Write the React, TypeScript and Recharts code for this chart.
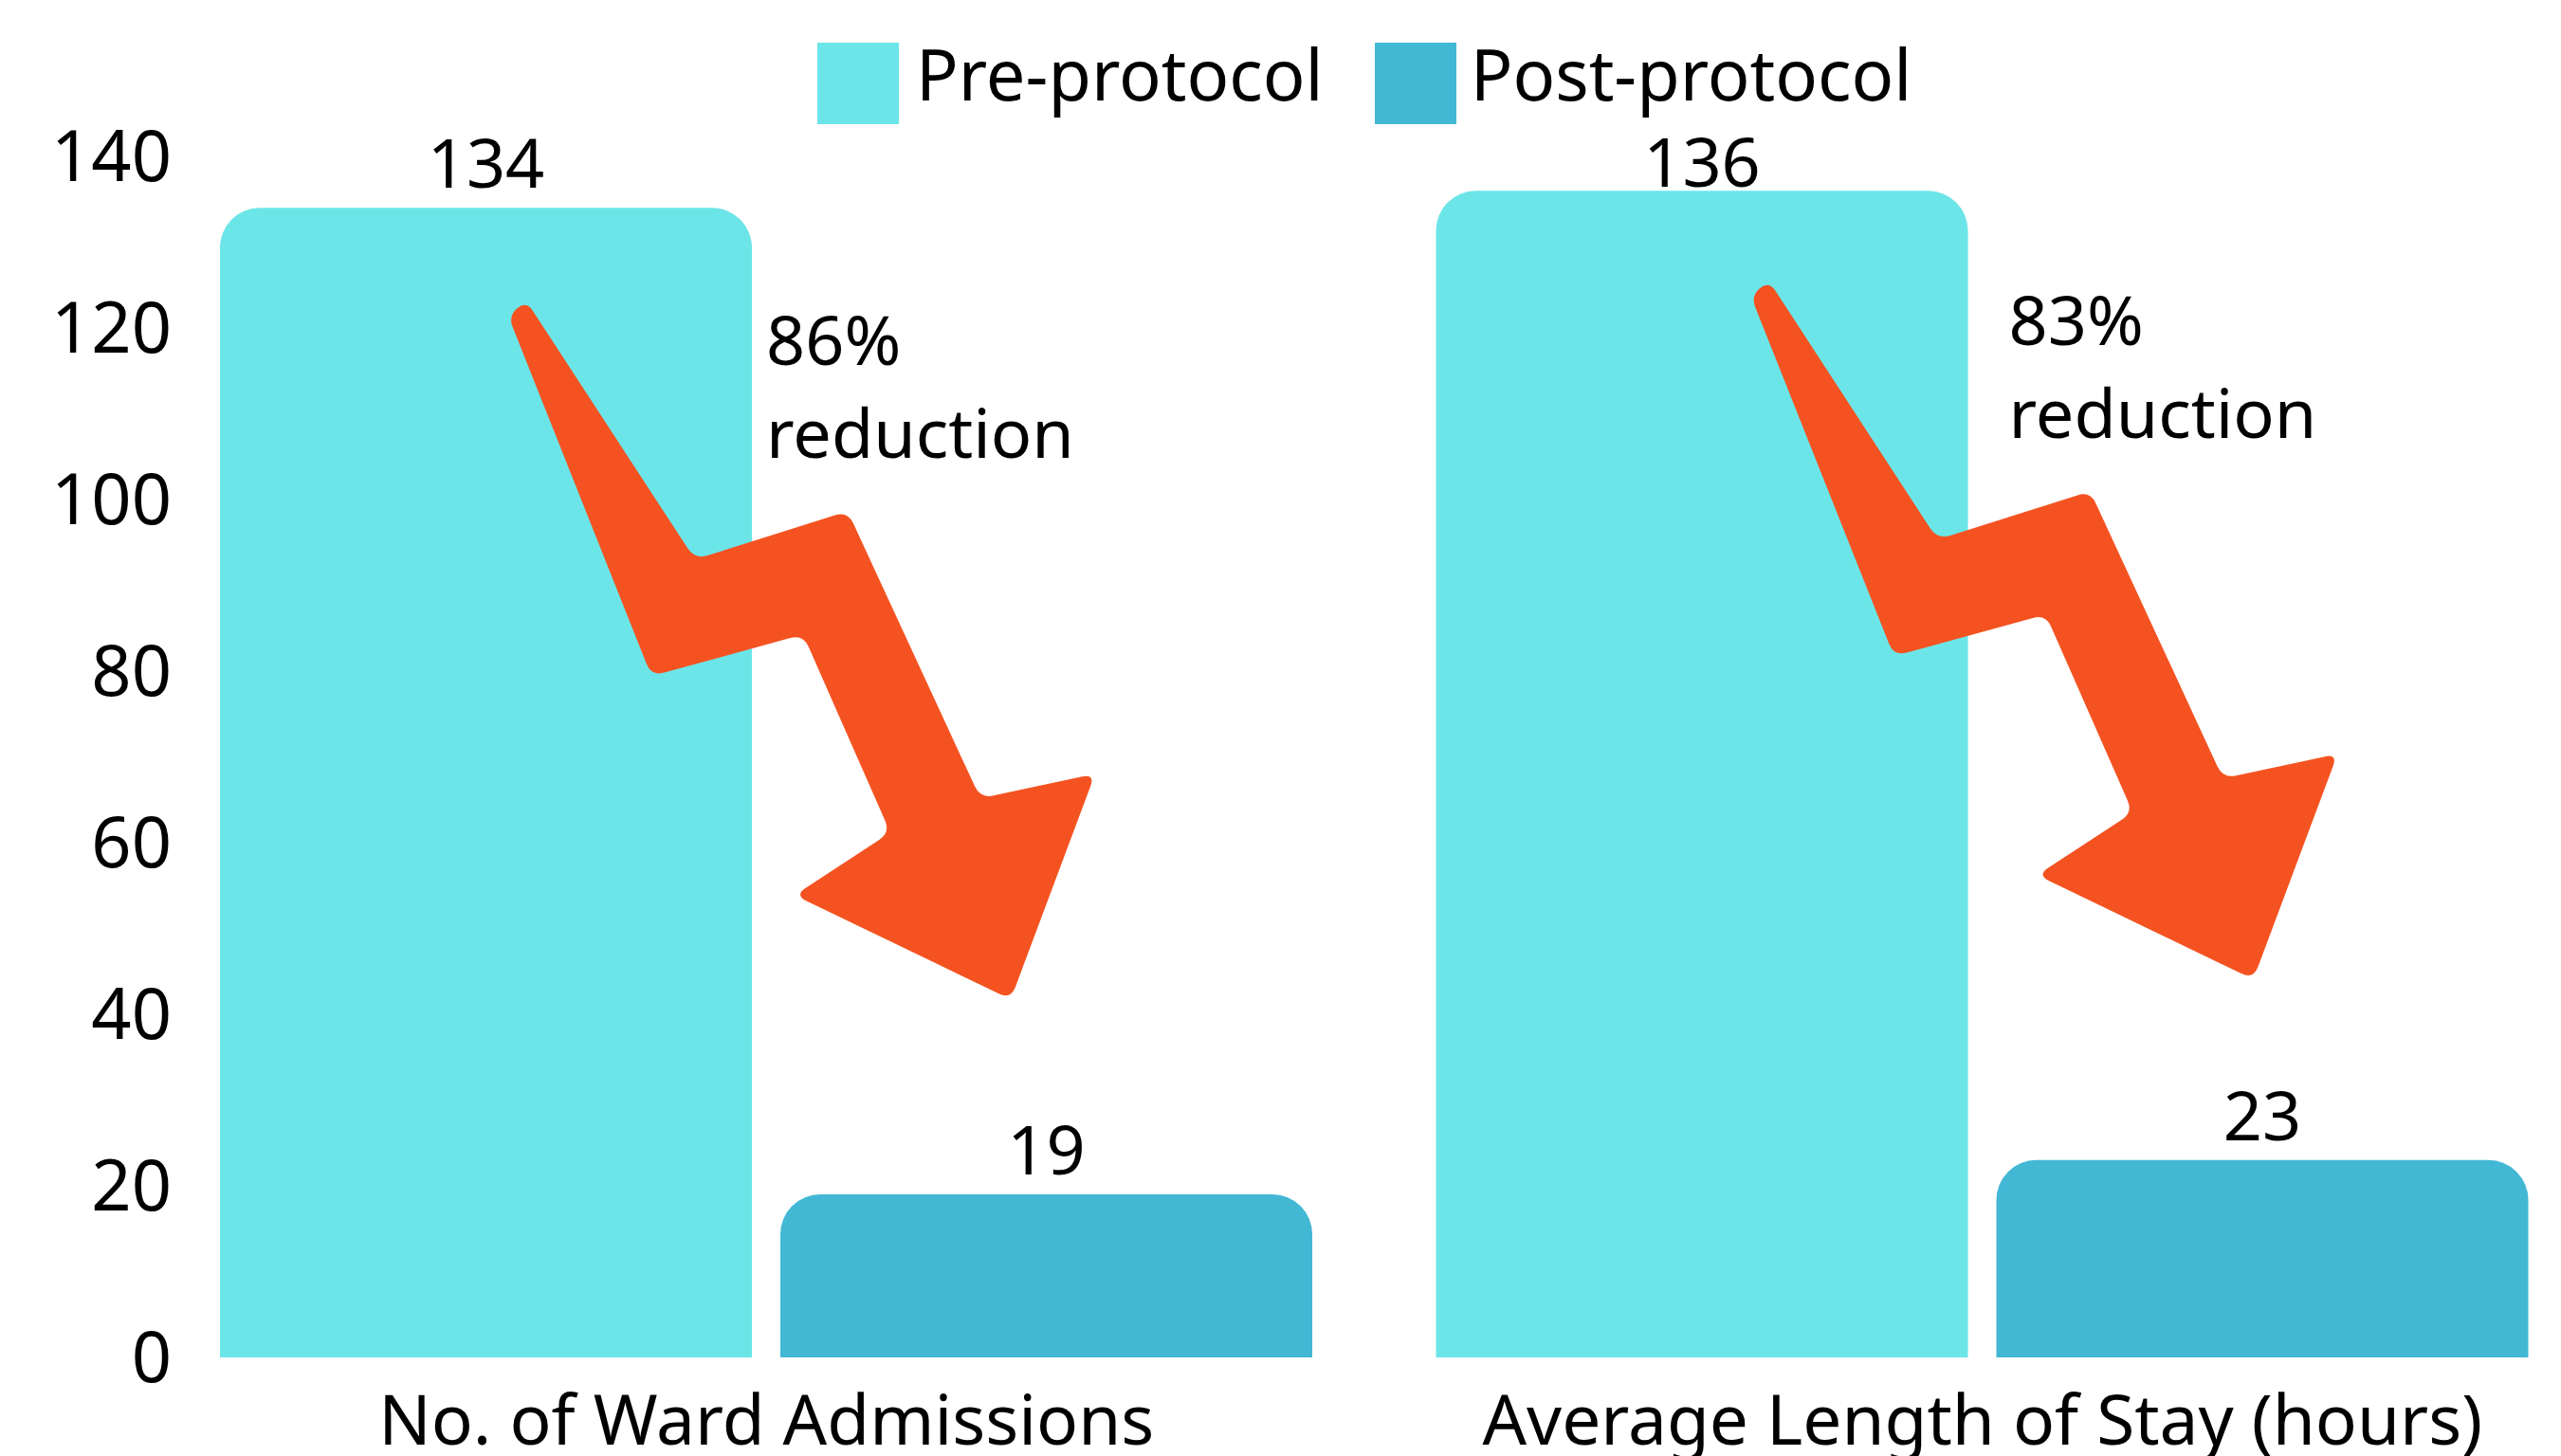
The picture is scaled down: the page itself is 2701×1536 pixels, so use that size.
import React from 'react';
import { BarChart, Bar, XAxis, YAxis, Legend, LabelList } from 'recharts';

// ---- data ----
const categories = ['No. of Ward Admissions', 'Average Length of Stay (hours)'];
const preProtocol = [134, 136];
const postProtocol = [19, 23];
const yTicks = [0, 20, 40, 60, 80, 100, 120, 140];
const seriesNames = ['Pre-protocol', 'Post-protocol'];

// ---- styling / layout constants ----
const PRE_COLOR = '#6CE5E8';
const POST_COLOR = '#42B8D5';
const SERIES_COLORS = [PRE_COLOR, POST_COLOR];
const ARROW_COLOR = '#F45321';
const FONT = '"Noto Sans", "Open Sans", sans-serif';
const FONT_SIZE = 74;

// arrow outline, relative to the pre bar's right edge and top
const ARROW_SHAPE: [number, number][] = [
  [-238, 98],
  [-60, 371],
  [101, 320],
  [241, 623],
  [362, 597],
  [273, 835],
  [45, 725],
  [146, 659],
  [54, 450],
  [-106, 494],
  [-257, 114],
];
const ANNOTATION_SHIFT: [number, number][] = [
  [0, 0],
  [28, -3],
];
const LABEL_GAP = 21;
const LABEL_MIN_BASELINE = 197;

const data = categories.map((c, i) => ({ category: c, pre: preProtocol[i], post: postProtocol[i] }));

function roundedPath(pts: [number, number][], r: number) {
  const n = pts.length;
  let d = '';
  for (let i = 0; i < n; i++) {
    const p0 = pts[(i - 1 + n) % n];
    const p1 = pts[i];
    const p2 = pts[(i + 1) % n];
    const v1 = [p0[0] - p1[0], p0[1] - p1[1]];
    const v2 = [p2[0] - p1[0], p2[1] - p1[1]];
    const l1 = Math.hypot(v1[0], v1[1]);
    const l2 = Math.hypot(v2[0], v2[1]);
    const rr = Math.min(r, l1 / 2, l2 / 2);
    const a = [p1[0] + (v1[0] / l1) * rr, p1[1] + (v1[1] / l1) * rr];
    const b = [p1[0] + (v2[0] / l2) * rr, p1[1] + (v2[1] / l2) * rr];
    d += `${i === 0 ? 'M' : 'L'}${a[0]},${a[1]} Q${p1[0]},${p1[1]} ${b[0]},${b[1]} `;
  }
  return d + 'Z';
}

function getBox(props: any) {
  const vb = props.viewBox || {};
  return {
    x: Number(props.x ?? vb.x),
    y: Number(props.y ?? vb.y),
    width: Number(props.width ?? vb.width),
  };
}

const valueText = (cx: number, y: number, value: any) => (
  <text
    x={cx}
    y={Math.max(y - LABEL_GAP, LABEL_MIN_BASELINE)}
    textAnchor="middle"
    fontSize={72}
    fontFamily={FONT}
    fill="#000"
  >
    {value}
  </text>
);

const renderPreLabel = (props: any) => {
  const { x, y, width } = getBox(props);
  const index = Number(props.index ?? 0);
  const value = props.value;
  const [sx, sy] = ANNOTATION_SHIFT[index] || [0, 0];
  const rx = x + width + sx;
  const ty = y + sy;
  const pts = ARROW_SHAPE.map(([dx, dy]) => [rx + dx, ty + dy] as [number, number]);
  const pct = Math.round((1 - postProtocol[index] / preProtocol[index]) * 100);
  return (
    <g>
      <path d={roundedPath(pts, 14)} fill={ARROW_COLOR} />
      {valueText(x + width / 2, y, value)}
      <text x={rx + 15} y={ty + 166} fontSize={72} fontFamily={FONT} fill="#000">
        {pct}%
      </text>
      <text x={rx + 15} y={ty + 264} fontSize={72} fontFamily={FONT} fill="#000">
        reduction
      </text>
    </g>
  );
};

const renderPostLabel = (props: any) => {
  const { x, y, width } = getBox(props);
  return <g>{valueText(x + width / 2, y, props.value)}</g>;
};

const YTick = (props: any) => {
  const { x, y, payload } = props;
  return (
    <text x={x + 22} y={y} dy={26} textAnchor="end" fontSize={FONT_SIZE} fontFamily={FONT} fill="#000">
      {payload.value}
    </text>
  );
};

const XTick = (props: any) => {
  const { x, y, payload } = props;
  return (
    <text x={x} y={y} dy={84} textAnchor="middle" fontSize={73} fontFamily={FONT} fill="#000">
      {payload.value}
    </text>
  );
};

const renderLegend = () => (
  <div style={{ display: 'flex', alignItems: 'flex-start', fontFamily: FONT }}>
    {seriesNames.map((name, i) => (
      <div
        key={name}
        style={{ display: 'flex', alignItems: 'flex-start', marginRight: i === 0 ? 54 : 0 }}
      >
        <div
          style={{ width: 86, height: 86, background: SERIES_COLORS[i], marginRight: i === 0 ? 18 : 15 }}
        />
        <span
          style={{
            fontSize: FONT_SIZE,
            lineHeight: '86px',
            marginTop: -10,
            color: '#000',
            whiteSpace: 'nowrap',
          }}
        >
          {name}
        </span>
      </div>
    ))}
  </div>
);

export default function App() {
  return (
    <div
      style={{
        position: 'absolute',
        left: 0,
        top: 0,
        width: 2701,
        height: 1536,
        overflow: 'hidden',
        background: '#fff',
      }}
    >
      <BarChart
        width={2740}
        height={1536}
        data={data}
        margin={{ top: 165, right: 8, bottom: 0, left: 0 }}
        barCategoryGap={65}
        barGap={30}
      >
        <XAxis
          dataKey="category"
          axisLine={false}
          tickLine={false}
          height={104}
          tick={<XTick />}
          interval={0}
        />
        <YAxis
          domain={[0, 140]}
          ticks={yTicks}
          axisLine={false}
          tickLine={false}
          width={167}
          tick={<YTick />}
          interval={0}
        />
        <Legend
          verticalAlign="middle"
          align="center"
          content={renderLegend}
          wrapperStyle={{ top: 45, left: 862, width: 1400, bottom: 'auto' }}
        />
        <Bar
          dataKey="pre"
          name={seriesNames[0]}
          fill={PRE_COLOR}
          radius={[42, 42, 0, 0]}
          isAnimationActive={false}
        >
          <LabelList dataKey="pre" content={renderPreLabel} />
        </Bar>
        <Bar
          dataKey="post"
          name={seriesNames[1]}
          fill={POST_COLOR}
          radius={[42, 42, 0, 0]}
          isAnimationActive={false}
        >
          <LabelList dataKey="post" content={renderPostLabel} />
        </Bar>
      </BarChart>
    </div>
  );
}
